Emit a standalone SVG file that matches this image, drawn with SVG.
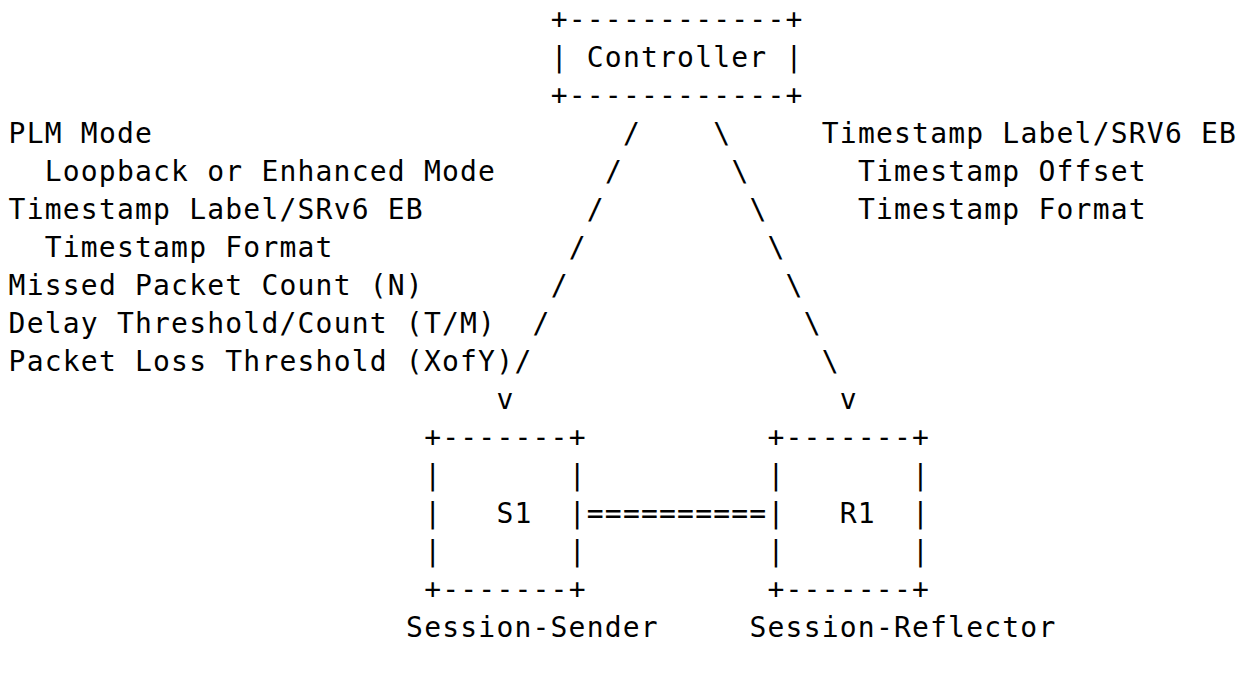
<svg xmlns="http://www.w3.org/2000/svg" width="1252" height="676" viewBox="0 0 1252 676">
<style>
text { font-family: "DejaVu Sans Mono", "Liberation Mono", monospace; font-size: 28px; letter-spacing: 1.2px; fill: #000000; white-space: pre; }
</style>
<rect x="0" y="0" width="1252" height="676" fill="#ffffff"/>
<g transform="translate(0.6,0)">
<g id="controller">
<text x="550.1" y="29.3">+------------+</text>
<text x="550.1" y="67.3">| Controller |</text>
<text x="550.1" y="105.3">+------------+</text>
</g>
<g id="s1">
<text x="423.6" y="447.3">+-------+</text>
<text x="423.6" y="485.3">|       |</text>
<text x="423.6" y="523.3">|   S1  |</text>
<text x="423.6" y="561.3">|       |</text>
<text x="423.6" y="599.3">+-------+</text>
</g>
<g id="r1">
<text x="766.9" y="447.3">+-------+</text>
<text x="766.9" y="485.3">|       |</text>
<text x="766.9" y="523.3">|   R1  |</text>
<text x="766.9" y="561.3">|       |</text>
<text x="766.9" y="599.3">+-------+</text>
</g>
<g id="connectors">
<text x="622.4" y="143.3">/</text>
<text x="712.7" y="143.3">\</text>
<text x="604.3" y="181.3">/</text>
<text x="730.8" y="181.3">\</text>
<text x="586.2" y="219.3">/</text>
<text x="748.9" y="219.3">\</text>
<text x="568.2" y="257.3">/</text>
<text x="766.9" y="257.3">\</text>
<text x="550.1" y="295.3">/</text>
<text x="785.0" y="295.3">\</text>
<text x="532.0" y="333.3">/</text>
<text x="803.1" y="333.3">\</text>
<text x="514.0" y="371.3">/</text>
<text x="821.2" y="371.3">\</text>
<text x="495.9" y="409.3">v</text>
<text x="839.2" y="409.3">v</text>
<text x="586.2" y="523.3">==========</text>
</g>
<g id="left-labels">
<text x="8" y="143.3">PLM Mode</text>
<text x="44.1" y="181.3">Loopback or Enhanced Mode</text>
<text x="8" y="219.3">Timestamp Label/SRv6 EB</text>
<text x="44.1" y="257.3">Timestamp Format</text>
<text x="8" y="295.3">Missed Packet Count (N)</text>
<text x="8" y="333.3">Delay Threshold/Count (T/M)</text>
<text x="8" y="371.3">Packet Loss Threshold (XofY)</text>
</g>
<g id="right-labels">
<text x="821.2" y="143.3">Timestamp Label/SRV6 EB</text>
<text x="857.3" y="181.3">Timestamp Offset</text>
<text x="857.3" y="219.3">Timestamp Format</text>
</g>
<g id="roles">
<text x="405.5" y="637.3">Session-Sender</text>
<text x="748.9" y="637.3">Session-Reflector</text>
</g>
</g>
</svg>
